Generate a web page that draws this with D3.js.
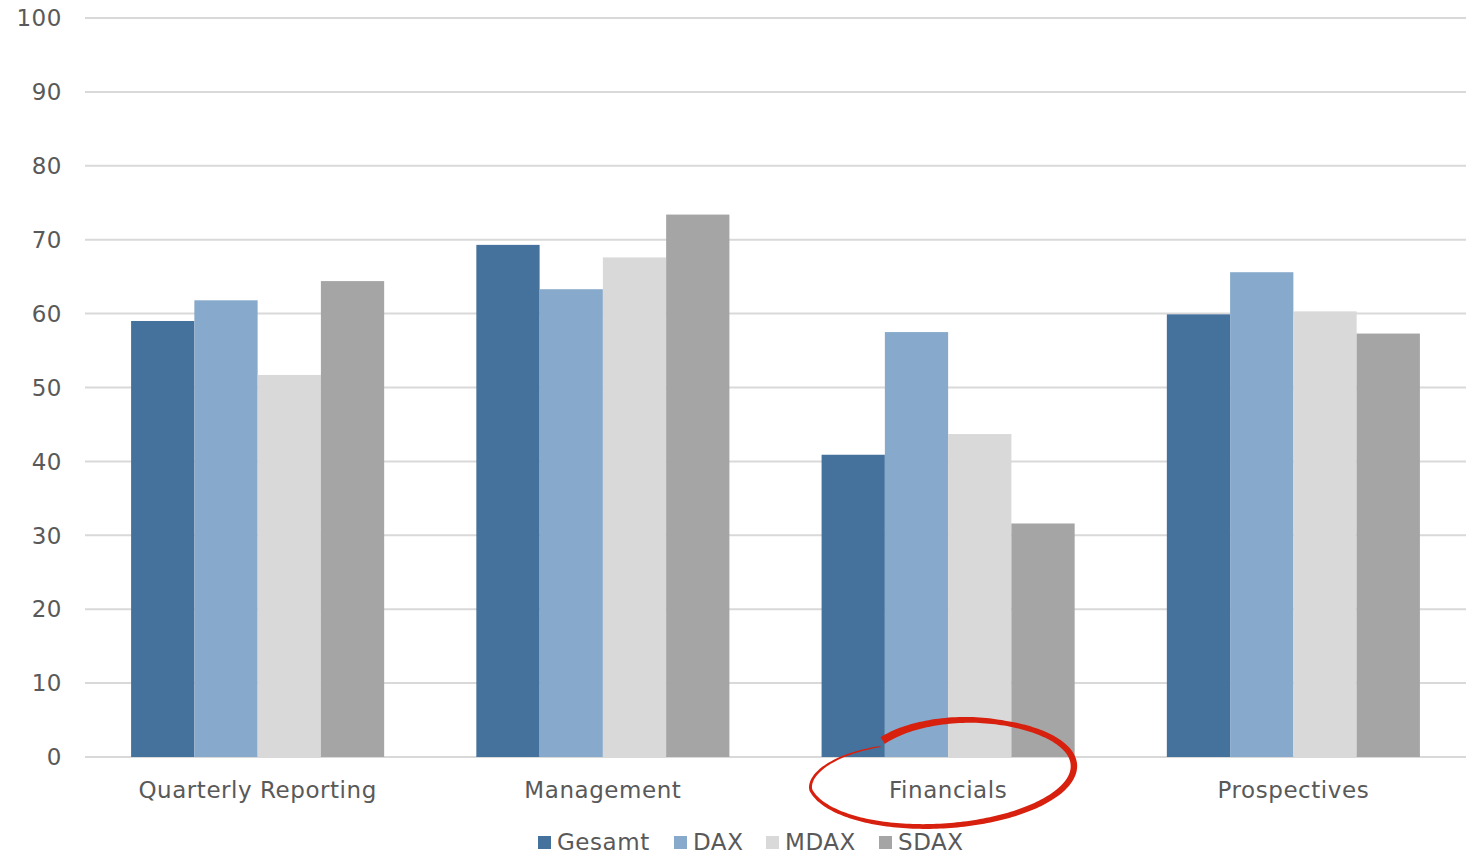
<!DOCTYPE html>
<html>
<head>
<meta charset="utf-8">
<script src="https://cdn.jsdelivr.net/npm/d3@7"></script>
<style>
  html, body { margin: 0; padding: 0; background: #ffffff; }
  svg { display: block; }
  text { font-family: Verdana, "DejaVu Sans", sans-serif; fill: #595959; letter-spacing: 0.55px; }
</style>
</head>
<body>
<svg id="chart" width="1468" height="854"></svg>
<script>
const categories = ["Quarterly Reporting", "Management", "Financials", "Prospectives"];
const seriesNames = ["Gesamt", "DAX", "MDAX", "SDAX"];
const gesamt = [59.0, 69.3, 40.9, 59.9];
const dax = [61.8, 63.3, 57.5, 65.6];
const mdax = [51.7, 67.6, 43.7, 60.3];
const sdax = [64.4, 73.4, 31.6, 57.3];
const yTicks = [0, 10, 20, 30, 40, 50, 60, 70, 80, 90, 100];
const highlighted = "Financials";

const seriesValues = [gesamt, dax, mdax, sdax];
const colors = ["#44729D", "#87A9CB", "#D9D9D9", "#A5A5A5"];

const W = 1468, H = 854;
const margin = { left: 85, right: 2, top: 18, bottom: 97 };
const svg = d3.select("#chart");

const x0 = d3.scaleBand().domain(categories)
  .range([margin.left, W - margin.right]).paddingInner(0.267).paddingOuter(0.1335);
const x1 = d3.scaleBand().domain(seriesNames).range([0, x0.bandwidth()]);
const y = d3.scaleLinear().domain([0, 100]).range([H - margin.bottom, margin.top]);

// gridlines
svg.append("g").selectAll("line").data(yTicks).join("line")
  .attr("x1", margin.left).attr("x2", W - margin.right)
  .attr("y1", d => y(d)).attr("y2", d => y(d))
  .attr("stroke", "#D9D9D9").attr("stroke-width", 2);

// y labels
svg.append("g").selectAll("text").data(yTicks).join("text")
  .attr("x", 62).attr("y", d => y(d)).attr("dy", "0.36em")
  .attr("text-anchor", "end").attr("font-size", 23)
  .text(d => d);

// bars
const rows = [];
categories.forEach((c, i) => {
  seriesNames.forEach((s, j) => rows.push({ c, s, j, v: seriesValues[j][i] }));
});
svg.append("g").selectAll("rect").data(rows).join("rect")
  .attr("x", d => x0(d.c) + x1(d.s))
  .attr("y", d => y(d.v))
  .attr("width", x1.bandwidth())
  .attr("height", d => y(0) - y(d.v))
  .attr("fill", d => colors[d.j]);

// category labels
svg.append("g").selectAll("text").data(categories).join("text")
  .attr("x", d => x0(d) + x0.bandwidth() / 2)
  .attr("y", y(0) + 33).attr("dy", "0.36em")
  .attr("text-anchor", "middle").attr("font-size", 23)
  .text(d => d);

// legend
const legendX = [538, 674, 766, 879];
const lg = svg.append("g");
seriesNames.forEach((s, j) => {
  lg.append("rect").attr("x", legendX[j]).attr("y", 836).attr("width", 13).attr("height", 13)
    .attr("fill", colors[j]);
  lg.append("text").attr("x", legendX[j] + 19).attr("y", 842).attr("dy", "0.36em")
    .attr("font-size", 23).text(s);
});

// hand-drawn red ellipse around highlighted category
const cx = x0(highlighted) + x0.bandwidth() / 2 - 7;
const cy = y(0) + 16;
const rx = 133, ry = 53, rot = -3.5 * Math.PI / 180;
const t0 = -122, t1 = 232;
const widthAt = d3.scaleLinear().domain([-122, -60, 0, 90, 180, 232]).range([8, 5, 6.5, 5, 2.8, 1.2]);
const N = 240;
const center = [], widths = [];
for (let k = 0; k <= N; k++) {
  const tdeg = t0 + (t1 - t0) * k / N;
  const t = tdeg * Math.PI / 180;
  let s = 1;
  if (tdeg < -70) s = 0.8 + 0.2 * Math.sin(((tdeg - t0) / (-70 - t0)) * Math.PI / 2);
  if (tdeg > 170) s = 1 - 0.28 * Math.pow((tdeg - 170) / (t1 - 170), 1.3);
  const ex = rx * s * Math.cos(t), ey = ry * s * Math.sin(t);
  const px = cx + ex * Math.cos(rot) - ey * Math.sin(rot);
  const py = cy + ex * Math.sin(rot) + ey * Math.cos(rot);
  center.push([px, py]);
  widths.push(widthAt(tdeg));
}
const left = [], right = [];
for (let k = 0; k <= N; k++) {
  const a = center[Math.max(0, k - 1)], b = center[Math.min(N, k + 1)];
  const dx = b[0] - a[0], dy = b[1] - a[1];
  const len = Math.hypot(dx, dy) || 1;
  const nx = -dy / len, ny = dx / len;
  const hw = widths[k] / 2;
  left.push([center[k][0] + nx * hw, center[k][1] + ny * hw]);
  right.push([center[k][0] - nx * hw, center[k][1] - ny * hw]);
}
const outline = left.concat(right.reverse());
svg.append("path")
  .attr("d", d3.line().curve(d3.curveLinearClosed)(outline))
  .attr("fill", "#D8200F");
</script>
</body>
</html>
